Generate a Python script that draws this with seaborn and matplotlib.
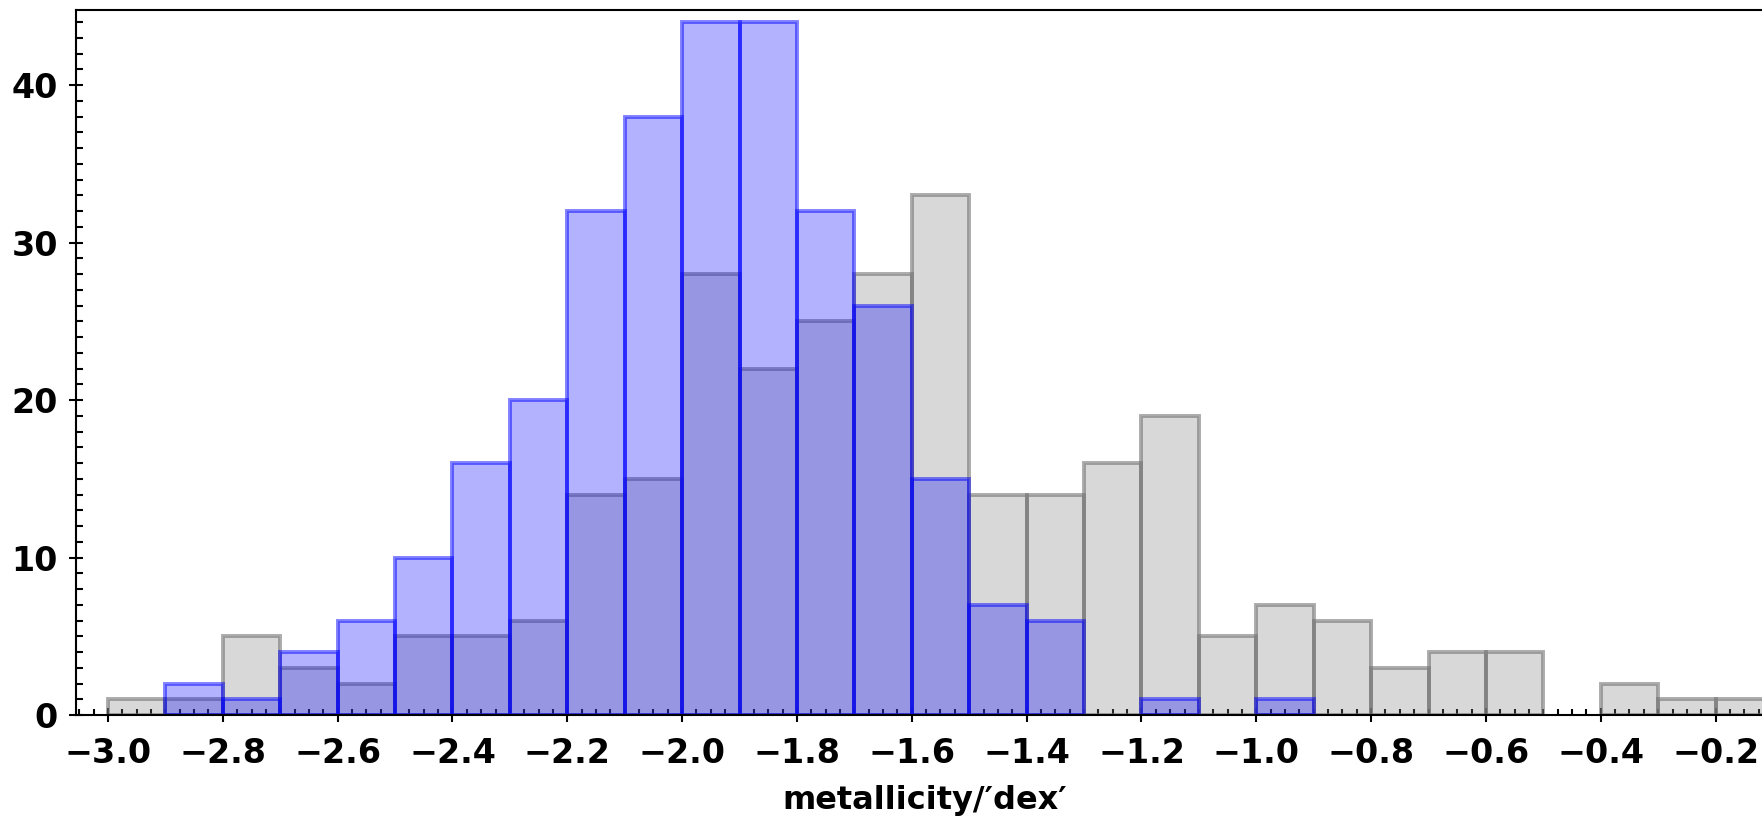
import numpy as np
import pandas as pd
import matplotlib
matplotlib.use("Agg")
import matplotlib.pyplot as plt
from matplotlib.ticker import MultipleLocator
import seaborn as sns

# ─── Datos: conteos por bin de metalicidad (ancho 0.1 dex) ───────────────────
bin_lo = [-3.0, -2.9, -2.8, -2.7, -2.6, -2.5, -2.4, -2.3, -2.2, -2.1,
          -2.0, -1.9, -1.8, -1.7, -1.6, -1.5, -1.4, -1.3, -1.2, -1.1,
          -1.0, -0.9, -0.8, -0.7, -0.6, -0.5, -0.4, -0.3, -0.2]
bin_width = 0.1

counts_gray = [1, 1, 5, 3, 2, 5, 5, 6, 14, 15,
               28, 22, 25, 28, 33, 14, 14, 16, 19, 5,
               7, 6, 3, 4, 4, 0, 2, 1, 1]
counts_blue = [0, 2, 1, 4, 6, 10, 16, 20, 32, 38,
               44, 44, 32, 26, 15, 7, 6, 0, 1, 0,
               1, 0, 0, 0, 0, 0, 0, 0, 0]

edges = list(bin_lo) + [round(bin_lo[-1] + bin_width, 1)]
df = pd.DataFrame({
    "metallicity": np.array(bin_lo) + bin_width / 2,
    "gray": counts_gray,
    "blue": counts_blue,
})

# ─── Estilo ──────────────────────────────────────────────────────────────────
sns.set_style("white")
plt.rcParams["font.family"] = ["DejaVu Sans"]
plt.rcParams["font.weight"] = "bold"
plt.rcParams["axes.labelweight"] = "bold"
for k in ["text.color", "axes.labelcolor", "xtick.color", "ytick.color"]:
    plt.rcParams[k] = "black"

fig = plt.figure(figsize=(17.62, 8.19), dpi=100)
ax = fig.add_axes([76 / 1762, 104 / 819, 1697 / 1762, 705.5 / 819])

sns.histplot(data=df, x="metallicity", weights="gray", bins=edges, ax=ax,
             color="gray", alpha=0.3,
             edgecolor=(0.45, 0.45, 0.45, 0.6), linewidth=2.8)
sns.histplot(data=df, x="metallicity", weights="blue", bins=edges, ax=ax,
             color="blue", alpha=0.3,
             edgecolor=(0.0, 0.0, 1.0, 0.5), linewidth=2.8)

# bins vacíos no se dibujan
for p in ax.patches:
    if p.get_height() == 0:
        p.set_visible(False)

ax.set_xlim(-3.0557, -0.1)
ax.set_ylim(0, 44.8)

ax.xaxis.set_major_locator(MultipleLocator(0.2))
ax.xaxis.set_minor_locator(MultipleLocator(0.025))
ax.yaxis.set_major_locator(MultipleLocator(10))
ax.yaxis.set_minor_locator(MultipleLocator(1))

ax.tick_params(axis="x", which="major", direction="inout", length=10,
               width=1.5, pad=11, labelsize=24)
ax.tick_params(axis="x", which="minor", direction="in", length=4.5, width=1.5)
ax.tick_params(axis="y", which="major", direction="inout", length=10,
               width=1.5, pad=8, labelsize=24)
ax.tick_params(axis="y", which="minor", direction="in", length=5, width=1.5)
ax.tick_params(bottom=True, left=True, which="both")

for s in ax.spines.values():
    s.set_linewidth(1.5)
    s.set_color("black")

ax.set_ylabel("")
ax.set_xlabel("metallicity/\u2032dex\u2032", fontsize=23, fontweight="bold",
              labelpad=11)

fig.savefig("out.png", dpi=100)
